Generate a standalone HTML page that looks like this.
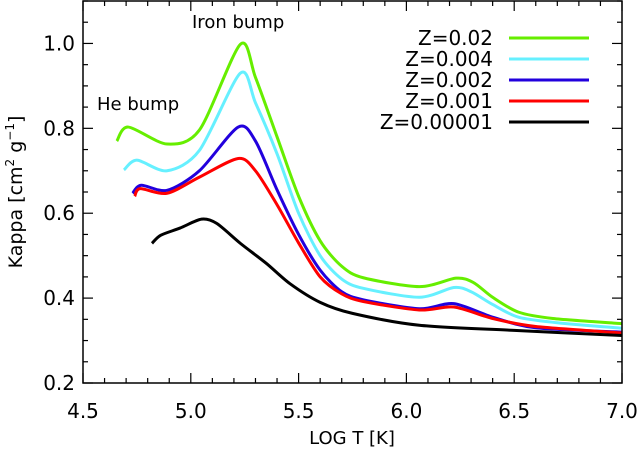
<!DOCTYPE html>
<html><head><meta charset="utf-8"><style>
body{margin:0;background:#fff}
svg text{font-family:"DejaVu Sans","Liberation Sans",sans-serif;fill:#000}
</style></head><body>
<svg id="c" width="638" height="449" xmlns="http://www.w3.org/2000/svg"></svg>
<script>
const xTicks=[4.5,5.0,5.5,6.0,6.5,7.0];
const xTickLabels=["4.5","5.0","5.5","6.0","6.5","7.0"];
const yTicks=[0.2,0.4,0.6,0.8,1.0];
const yTickLabels=["0.2","0.4","0.6","0.8","1.0"];
const seriesNames=["Z=0.02","Z=0.004","Z=0.002","Z=0.001","Z=0.00001"];
const seriesColors=["#66ee00","#66f0ff","#2200dd","#ff0000","#000000"];
const xZ002=[4.657,4.71,4.89,5.04,5.23,5.3,5.4,5.5,5.6,5.7,5.8,6.06,6.23,6.31,6.4,6.52,6.68,7.0];
const yZ002=[0.770,0.803,0.763,0.796,0.998,0.92,0.78,0.64,0.535,0.475,0.448,0.427,0.447,0.437,0.402,0.367,0.352,0.340];
const xZ0004=[4.69,4.75,4.89,5.04,5.23,5.3,5.4,5.5,5.6,5.7,5.8,6.06,6.22,6.3,6.4,6.52,6.7,7.0];
const yZ0004=[0.702,0.725,0.700,0.748,0.930,0.86,0.74,0.60,0.50,0.445,0.423,0.402,0.425,0.415,0.385,0.355,0.342,0.329];
const xZ0002=[4.73,4.77,4.89,5.04,5.22,5.3,5.4,5.5,5.6,5.7,5.8,6.06,6.22,6.4,6.6,7.0];
const yZ0002=[0.647,0.666,0.654,0.700,0.803,0.77,0.655,0.55,0.466,0.415,0.396,0.375,0.387,0.355,0.330,0.320];
const xZ0001=[4.74,4.765,4.89,5.04,5.22,5.3,5.4,5.5,5.6,5.7,5.8,6.06,6.22,6.4,6.6,7.0];
const yZ0001=[0.640,0.658,0.647,0.685,0.729,0.70,0.62,0.53,0.45,0.41,0.392,0.372,0.379,0.352,0.333,0.318];
const xZ000001=[4.82,4.86,4.95,5.05,5.12,5.23,5.35,5.46,5.6,5.75,6.06,6.5,7.0];
const yZ000001=[0.529,0.548,0.565,0.586,0.576,0.529,0.482,0.434,0.390,0.364,0.336,0.324,0.312];
const seriesX=[xZ002,xZ0004,xZ0002,xZ0001,xZ000001];
const seriesY=[yZ002,yZ0004,yZ0002,yZ0001,yZ000001];

const L=83,R=622,T=1,B=383;
const sx=v=>L+(v-4.5)/2.5*(R-L);
const sy=v=>B-(v-0.2)/0.9*(B-T);
const svg=document.getElementById('c');
const NS='http://www.w3.org/2000/svg';
function mk(tag,attrs,text){const e=document.createElementNS(NS,tag);for(const k in attrs)e.setAttribute(k,attrs[k]);if(text!==undefined)e.textContent=text;svg.appendChild(e);return e;}

function smooth(px,py){const k=7;let d='M'+px[0]+','+py[0];for(let i=0;i<px.length-1;i++){const x0=px[Math.max(i-1,0)],y0=py[Math.max(i-1,0)],x1=px[i],y1=py[i],x2=px[i+1],y2=py[i+1],x3=px[Math.min(i+2,px.length-1)],y3=py[Math.min(i+2,px.length-1)];d+=' C'+(x1+(x2-x0)/k)+','+(y1+(y2-y0)/k)+' '+(x2-(x3-x1)/k)+','+(y2-(y3-y1)/k)+' '+x2+','+y2;}return d;}
for(let s=0;s<seriesNames.length;s++){
  const px=seriesX[s].map(sx),py=seriesY[s].map(sy);
  const p=mk('path',{d:smooth(px,py),fill:'none',stroke:seriesColors[s],'stroke-width':3,'stroke-linejoin':'round'});
  
  
}
const f=mk('rect',{x:L,y:T,width:R-L,height:B-T,fill:'none',stroke:'#000','stroke-width':1.5});


for(let v=4.5;v<=7.0001;v+=0.1){const X=sx(v);const maj=Math.abs(v*2-Math.round(v*2))<0.01;const len=maj?10:5;
  mk('line',{x1:X,y1:B,x2:X,y2:B-len,stroke:'#000','stroke-width':1.2});
  mk('line',{x1:X,y1:T,x2:X,y2:T+len,stroke:'#000','stroke-width':1.2});}
for(let i=0;i<xTicks.length;i++){const t=mk('text',{x:sx(xTicks[i]),y:418,'text-anchor':'middle','font-size':20},xTickLabels[i]);
  
  }
for(let k=0;k<=18;k++){const v=0.2+k*0.05;const Y=sy(v);const len=(k%4===0)?10:5;
  mk('line',{x1:L,y1:Y,x2:L+len,y2:Y,stroke:'#000','stroke-width':1.2});
  mk('line',{x1:R,y1:Y,x2:R-len,y2:Y,stroke:'#000','stroke-width':1.2});}
for(let i=0;i<yTicks.length;i++){const t=mk('text',{x:75,y:sy(yTicks[i])+7,'text-anchor':'end','font-size':20},yTickLabels[i]);
  
  }
for(let i=0;i<seriesNames.length;i++){const Y=38+i*21;
  const t=mk('text',{x:493,y:Y+7,'text-anchor':'end','font-size':20},seriesNames[i]);
  
  
  const l=mk('line',{x1:509,y1:Y,x2:589,y2:Y,stroke:seriesColors[i],'stroke-width':3});
  
  }
const a1=mk('text',{x:192,y:28,'font-size':18},'Iron bump');


const a2=mk('text',{x:97,y:110,'font-size':18},'He bump');


const xt=mk('text',{x:352,y:444,'text-anchor':'middle','font-size':18},'LOG T [K]');


const yt=mk('text',{x:0,y:0,'text-anchor':'middle','font-size':19,transform:'translate(22,192) rotate(-90)'});
yt.innerHTML='Kappa [cm<tspan dy="-8" font-size="12">2</tspan><tspan dy="8"> g</tspan><tspan dy="-8" font-size="12">−1</tspan><tspan dy="8">]</tspan>';


</script>
</body></html>
